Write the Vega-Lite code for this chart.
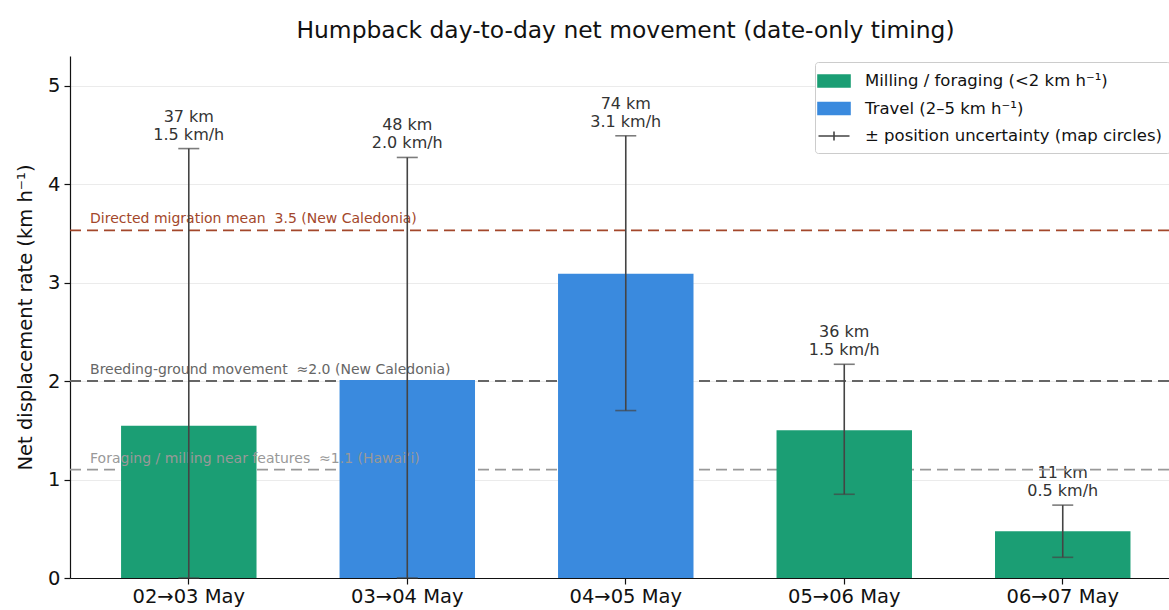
{
  "$schema": "https://vega.github.io/schema/vega-lite/v6.json",
  "width": 1099,
  "height": 522,
  "autosize": {"type": "none"},
  "padding": {"left": 70, "top": 56, "right": 0, "bottom": 32},
  "background": "white",
  "title": {"text": "Humpback day-to-day net movement (date-only timing)", "font": "DejaVu Sans", "fontSize": 23.4, "fontWeight": "normal", "color": "#111", "offset": 13, "dx": 6, "anchor": "middle", "frame": "group"},
  "config": {
    "view": {"stroke": null},
    "font": "DejaVu Sans",
    "axis": {"labelFont": "DejaVu Sans", "titleFont": "DejaVu Sans", "labelColor": "#111", "titleColor": "#111", "domainColor": "#111", "tickColor": "#111", "labelFontSize": 19.5, "titleFontSize": 19.5, "titleFontWeight": "normal", "domainWidth": 1.2, "tickWidth": 1.2, "tickSize": 6}
  },
  "datasets": {
    "moves": [
      {"pair": "02→03 May", "type": "Milling / foraging (<2 km h⁻¹)", "rate": 1.545, "lo": 0, "hi": 4.36, "label": "37 km\n1.5 km/h"},
      {"pair": "03→04 May", "type": "Travel (2–5 km h⁻¹)", "rate": 2.01, "lo": 0, "hi": 4.27, "label": "48 km\n2.0 km/h"},
      {"pair": "04→05 May", "type": "Travel (2–5 km h⁻¹)", "rate": 3.09, "lo": 1.70, "hi": 4.49, "label": "74 km\n3.1 km/h"},
      {"pair": "05→06 May", "type": "Milling / foraging (<2 km h⁻¹)", "rate": 1.50, "lo": 0.85, "hi": 2.17, "label": "36 km\n1.5 km/h"},
      {"pair": "06→07 May", "type": "Milling / foraging (<2 km h⁻¹)", "rate": 0.475, "lo": 0.21, "hi": 0.74, "label": "11 km\n0.5 km/h"}
    ]
  },
  "data": {"name": "moves"},
  "layer": [
    {
      "mark": {"type": "text", "baseline": "bottom", "align": "center", "fontSize": 16, "color": "#333", "dy": -24, "lineBreak": "\n", "lineHeight": 18},
      "encoding": {
        "x": {"field": "pair", "type": "nominal", "sort": null,
          "scale": {"paddingInner": 0.38, "paddingOuter": 0.205, "align": 0.57},
          "axis": {"title": null, "labelAngle": 0, "labelPadding": 3, "grid": false}},
        "y": {"field": "hi", "type": "quantitative", "scale": {"domain": [0, 5.3], "nice": false},
          "axis": {"title": "Net displacement rate (km h⁻¹)", "values": [0, 1, 2, 3, 4, 5], "format": "d", "grid": true, "gridColor": "#ebebeb", "gridWidth": 1, "labelPadding": 4, "titlePadding": 12}},
        "text": {"field": "label"}
      }
    },
    {"data": {"values": [{"v": 3.53}]}, "mark": {"type": "rule", "color": "#a3472b", "strokeWidth": 1.8, "strokeDash": [11, 6]}, "encoding": {"y": {"field": "v", "type": "quantitative"}}},
    {"data": {"values": [{"v": 2.0}]}, "mark": {"type": "rule", "color": "#666666", "strokeWidth": 1.8, "strokeDash": [11, 6]}, "encoding": {"y": {"field": "v", "type": "quantitative"}}},
    {"data": {"values": [{"v": 1.1}]}, "mark": {"type": "rule", "color": "#999999", "strokeWidth": 1.8, "strokeDash": [11, 6]}, "encoding": {"y": {"field": "v", "type": "quantitative"}}},
    {
      "mark": {"type": "bar"},
      "encoding": {
        "x": {"field": "pair", "type": "nominal", "sort": null},
        "y": {"field": "rate", "type": "quantitative"},
        "color": {"field": "type", "type": "nominal",
          "scale": {"domain": ["Milling / foraging (<2 km h⁻¹)", "Travel (2–5 km h⁻¹)", "± position uncertainty (map circles)"], "range": ["#1b9e74", "#3a8ade", "#444444"]},
          "legend": {
            "title": null, "orient": "none", "legendX": 745, "legendY": 6,
            "labelFont": "DejaVu Sans", "labelFontSize": 16.5, "labelColor": "#111", "labelLimit": 500,
            "symbolSize": 400, "labelOffset": 20, "rowPadding": 6.5, "padding": 8,
            "fillColor": "white", "strokeColor": "#cccccc", "cornerRadius": 3,
            "encode": {"symbols": {"update": {
              "shape": {"signal": "datum.value === '± position uncertainty (map circles)' ? 'M-1.55,0H1.55M0,-0.45V0.45' : 'M-1.6,-0.6H1.6V0.6H-1.6Z'"},
              "fill": {"signal": "datum.value === '± position uncertainty (map circles)' ? 'transparent' : (datum.value === 'Travel (2–5 km h⁻¹)' ? '#3a8ade' : '#1b9e74')"},
              "stroke": {"signal": "datum.value === '± position uncertainty (map circles)' ? '#444444' : 'transparent'"},
              "strokeWidth": {"value": 1.6},
              "opacity": {"value": 1}
            }}}
          }}
      }
    },
    {
      "data": {"values": [{"pair": "02→03 May", "v": 3.53, "t": "Directed migration mean \u00a03.5 (New Caledonia)"}]},
      "mark": {"type": "text", "align": "left", "baseline": "bottom", "fontSize": 14, "color": "#a3472b", "dx": -31, "dy": -4},
      "encoding": {"x": {"field": "pair", "type": "nominal", "bandPosition": 0}, "y": {"field": "v", "type": "quantitative"}, "text": {"field": "t"}}
    },
    {
      "data": {"values": [{"pair": "02→03 May", "v": 2.0, "t": "Breeding-ground movement \u00a0≈2.0 (New Caledonia)"}]},
      "mark": {"type": "text", "align": "left", "baseline": "bottom", "fontSize": 14, "color": "#666666", "dx": -31, "dy": -4},
      "encoding": {"x": {"field": "pair", "type": "nominal", "bandPosition": 0}, "y": {"field": "v", "type": "quantitative"}, "text": {"field": "t"}}
    },
    {
      "data": {"values": [{"pair": "02→03 May", "v": 1.1, "t": "Foraging / milling near features \u00a0≈1.1 (Hawaiʻi)"}]},
      "mark": {"type": "text", "align": "left", "baseline": "bottom", "fontSize": 14, "color": "#999999", "dx": -31, "dy": -4},
      "encoding": {"x": {"field": "pair", "type": "nominal", "bandPosition": 0}, "y": {"field": "v", "type": "quantitative"}, "text": {"field": "t"}}
    },
    {
      "mark": {"type": "rule", "strokeWidth": 1.6},
      "encoding": {
        "x": {"field": "pair", "type": "nominal", "sort": null},
        "y": {"field": "lo", "type": "quantitative"},
        "y2": {"field": "hi"},
        "color": {"datum": "± position uncertainty (map circles)"}
      }
    },
    {
      "mark": {"type": "tick", "color": "#444444", "size": 21, "thickness": 1.6, "orient": "horizontal"},
      "encoding": {"x": {"field": "pair", "type": "nominal", "sort": null}, "y": {"field": "lo", "type": "quantitative"}}
    },
    {
      "mark": {"type": "tick", "color": "#444444", "size": 21, "thickness": 1.6, "orient": "horizontal"},
      "encoding": {"x": {"field": "pair", "type": "nominal", "sort": null}, "y": {"field": "hi", "type": "quantitative"}}
    }
  ]
}
